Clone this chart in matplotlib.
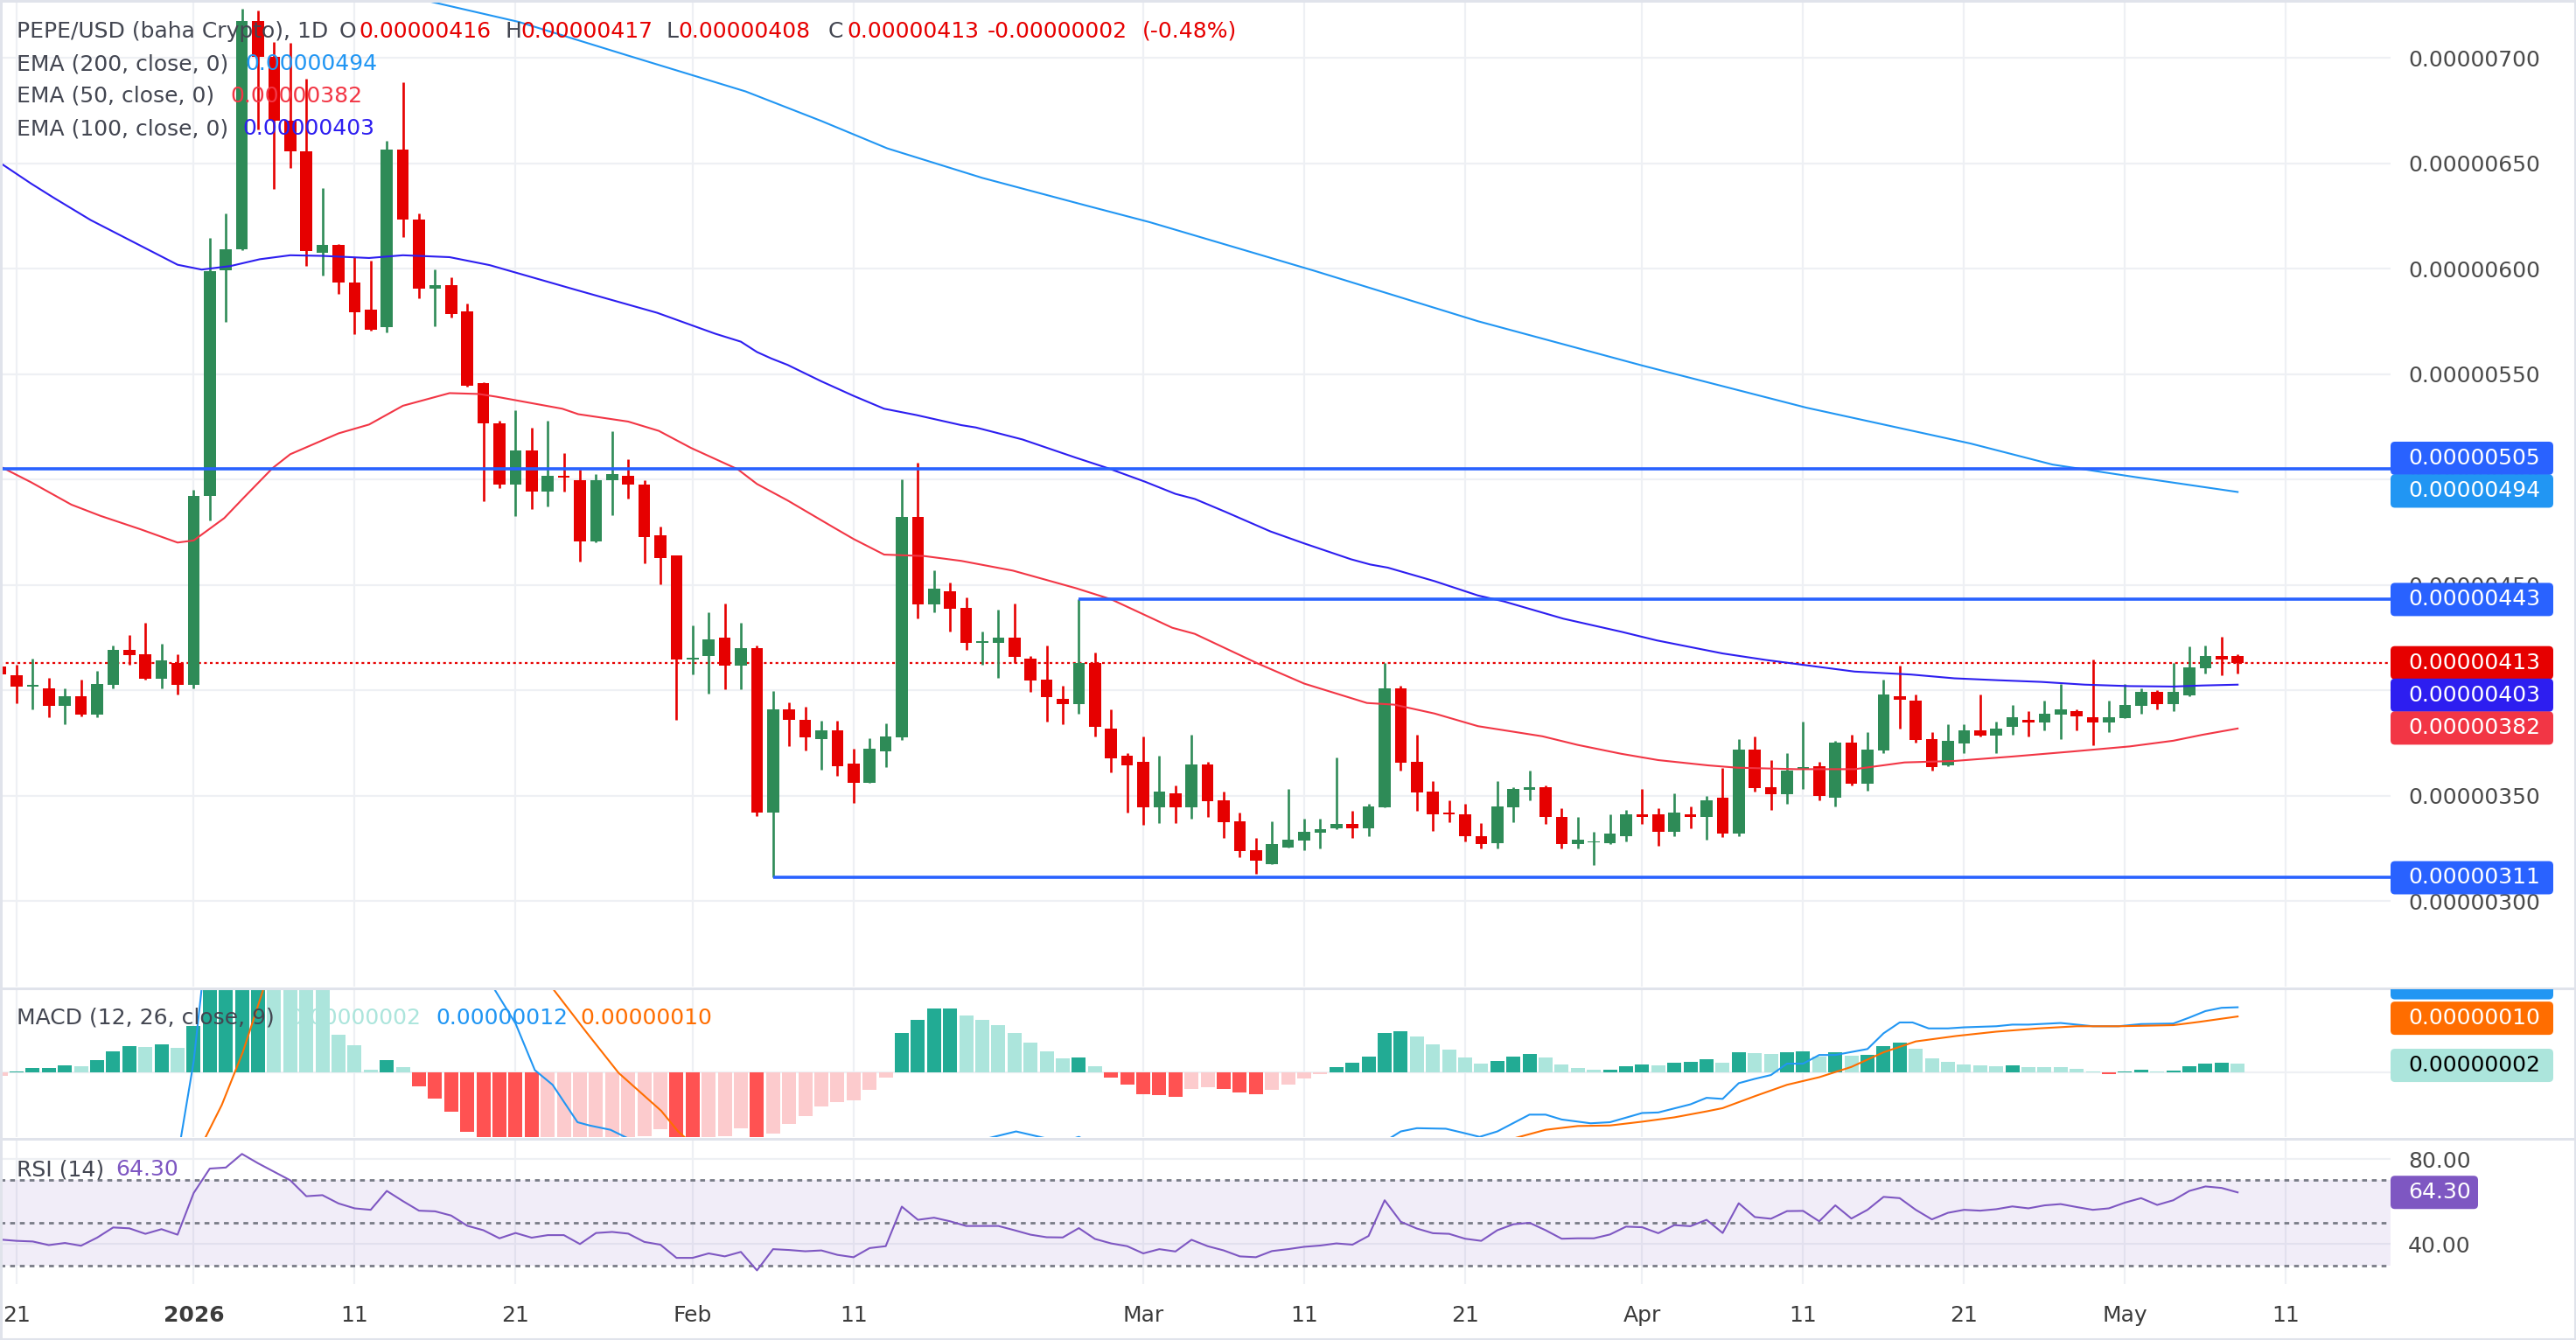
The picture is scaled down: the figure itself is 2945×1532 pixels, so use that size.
import numpy as np
import pandas as pd
import matplotlib
matplotlib.use("Agg")
import matplotlib.pyplot as plt
from matplotlib.patches import Rectangle, FancyBboxPatch
from matplotlib.transforms import IdentityTransform, Bbox
from matplotlib.lines import Line2D

plt.rcParams['font.family'] = ['DejaVu Sans']

# ---------------- data (prices and MACD in units of 1e-8 USD) ----------------
UNIT = 1e-8
first_day = "2025-12-20"
day0 = pd.Timestamp("2025-12-21")

opens = [411, 407.1, 401.8, 400.8, 392.7, 397.1, 388.5, 402.6, 419.1, 417.0, 405.5,
         412.9, 402.6, 492.2, 599.3, 609.0, 717.4, 700.4, 670.1, 655.7, 607.5,
         611.3, 593.4, 580.7, 572.2, 656.6, 623.2, 590.6, 592.3, 579.6, 545.7,
         526.5, 497.5, 513.8, 494.3, 501.8, 499.7, 470.5, 499.4, 501.8, 497.7,
         473.6, 463.7, 414.7, 416.1, 425.0, 411.7, 419.9, 341.8, 390.9, 386.0,
         376.6, 381.1, 365.0, 355.9, 370.9, 377.8, 482.2, 440.8, 446.9, 438.9,
         422.6, 422.4, 425.0, 414.9, 405.0, 395.9, 393.4, 412.9, 381.7, 368.9,
         366.0, 344.6, 351.0, 344.6, 364.6, 347.7, 337.7, 323.9, 317.4, 325.3,
         328.6, 332.4, 334.3, 336.7, 334.4, 344.6, 401.0, 366.0, 351.9, 342.0,
         341.2, 330.9, 327.5, 344.6, 352.9, 354.0, 340.0, 326.9, 327.8, 327.5,
         330.6, 341.2, 341.2, 332.6, 341.2, 339.7, 349.0, 331.8, 371.8, 354.0,
         350.8, 362.5, 363.9, 348.8, 375.1, 355.8, 371.5, 397.0, 394.9, 376.7,
         364.3, 374.7, 380.9, 378.4, 382.6, 385.8, 384.7, 388.4, 389.9, 387.0,
         384.7, 386.6, 392.6, 399.0, 393.2, 397.4, 410.3, 416.0, 416.0]
highs = [415, 412, 415.1, 405.8, 400.8, 405.0, 409.1, 421.2, 426.1, 431.8, 422.0,
         417.0, 495, 614.5, 626.2, 723.2, 722.5, 707.5, 707, 690, 638.2,
         611.5, 605.4, 603.7, 660.4, 688.4, 626.2, 599.5, 595.7, 583.6, 545.9,
         527.7, 532.6, 524.3, 527.7, 512.6, 504.4, 502.5, 522.9, 509.7, 499.6,
         477.8, 463.9, 430.9, 437.0, 441.2, 431.9, 421.1, 399.4, 394.0, 392.3,
         385.3, 385.3, 372.1, 377.0, 384.1, 499.9, 507.7, 456.8, 450.9, 443.9,
         427.7, 438.1, 441.0, 416.3, 421.3, 402.0, 443.3, 417.9, 390.7, 370.0,
         377.9, 368.9, 354.6, 378.9, 366.0, 352.0, 342.0, 329.9, 337.7, 353.1,
         339.1, 339.1, 368.1, 342.7, 346.0, 413.0, 402.1, 378.9, 357.0, 347.8,
         346.1, 337.0, 357.0, 354.0, 361.8, 354.7, 343.9, 340.0, 332.9, 341.2,
         343.0, 353.3, 344.1, 351.2, 345.0, 349.9, 362.9, 376.7, 378.0, 366.8,
         370.1, 385.0, 366.0, 376.1, 378.8, 380.0, 404.8, 411.8, 397.8, 380.0,
         383.7, 383.7, 397.8, 385.0, 392.8, 390.0, 394.9, 402.8, 390.8, 414.7,
         394.9, 402.8, 400.8, 399.9, 412.7, 420.6, 421.1, 425.3, 417]
lows = [404.1, 393.8, 390.9, 387.1, 384.0, 387.4, 387.1, 401.0, 412.0, 405.0, 401.0,
        397.9, 401, 480.6, 574.7, 608.6, 666, 637.6, 647.7, 601.3, 596.5,
        587.9, 569.0, 570.5, 569.9, 615.0, 585.7, 572.6, 576.8, 544.0, 489.7,
        495.7, 482.7, 485.7, 487.0, 494.0, 461.0, 470.0, 482.9, 490.9, 460.3,
        450.3, 385.7, 407.4, 398.2, 400.3, 400.3, 340.4, 311.4, 373.3, 371.2,
        362.2, 359.2, 346.5, 355.9, 363.4, 376.4, 434.2, 437.0, 427.9, 419.1,
        412.1, 405.7, 412.7, 399.1, 385.0, 383.9, 388.7, 378.1, 361.0, 342.0,
        336.3, 337.0, 337.0, 339.1, 339.9, 329.9, 320.7, 313.0, 317.4, 325.3,
        324.1, 325.0, 334.1, 329.9, 330.7, 344.6, 362.0, 342.7, 333.1, 337.2,
        328.1, 325.1, 325.1, 337.2, 347.8, 336.4, 325.1, 325.1, 317.2, 327.1,
        328.1, 336.4, 326.2, 330.9, 334.3, 329.2, 330.2, 330.9, 351.9, 343.0,
        346.1, 353.3, 347.8, 345.0, 354.7, 352.2, 370.2, 381.8, 375.2, 362.0,
        363.9, 370.1, 378.0, 370.1, 378.8, 378.0, 380.9, 376.7, 380.9, 373.8,
        380.0, 386.6, 388.7, 390.8, 389.9, 397.1, 407.7, 407.0, 408]
closes = [407.6, 401.8, 402.5, 392.7, 397.1, 388.5, 402.9, 419.1, 416.7, 405.3, 414.1,
          402.6, 492.2, 598.6, 609.2, 717.4, 700.4, 670.1, 655.7, 608.2, 611.3,
          593.4, 579.4, 571.1, 656.6, 623.2, 590.6, 592.0, 578.5, 544.5, 526.5,
          497.5, 513.8, 494.3, 501.8, 500.8, 470.5, 499.7, 502.7, 497.5, 472.6,
          462.7, 414.7, 415.4, 424.1, 411.7, 419.9, 341.8, 390.9, 385.8, 377.8,
          381.1, 363.7, 355.9, 372.1, 378.2, 482.2, 440.8, 448.1, 438.7, 422.4,
          423.1, 425.0, 415.7, 404.6, 396.7, 393.4, 412.9, 382.7, 367.7, 364.4,
          344.6, 351.7, 344.6, 364.6, 347.4, 337.4, 323.6, 318.9, 327.0, 329.1,
          332.7, 334.1, 336.7, 334.4, 344.9, 401.0, 365.7, 351.4, 340.9, 341.2,
          330.6, 326.9, 344.9, 353.3, 354.0, 339.7, 326.9, 329.2, 328.3, 332.0,
          341.2, 339.7, 332.6, 342.0, 339.7, 347.8, 331.8, 371.8, 353.7, 350.8,
          361.8, 363.4, 349.6, 375.1, 355.7, 371.8, 397.8, 395.5, 376.4, 363.6,
          375.9, 380.9, 378.4, 381.7, 387.0, 384.7, 388.7, 390.8, 387.5, 384.7,
          387.0, 392.8, 399.0, 393.2, 399.0, 410.6, 416.0, 414.6, 413]

# EMA readings: (day offset from 2025-12-21, value in 1e-8)
ema200_days = [-1, 10, 18, 25.5, 31.2, 38, 45.3, 50, 54.1, 60, 66.4, 70.4, 80.6,
               90.8, 101, 111.2, 121.4, 126.5, 131.7, 138]
ema200_vals = [790, 762, 742, 727, 717, 701, 684, 670, 657, 643, 630, 622, 599,
               575, 554, 534, 517, 507, 501, 494]
ema100_days = [-1, 0.9, 2.3, 4.6, 7.3, 10.0, 11.5, 13.3, 15.1, 17, 19, 21.9, 24, 26.9,
               29.4, 34.7, 39.8, 43.4, 45, 46, 46.9, 47.9, 50, 52, 53.9, 55.9, 58.7,
               59.6, 62.5, 65.8, 67.8, 70.1, 72, 73.2, 75.1, 77.9, 80, 82.9, 84.1,
               85.2, 88.1, 90.8, 92.4, 96.1, 99.7, 101.9, 106, 108.7, 110.9, 114.2,
               117.7, 120.4, 123.1, 125.8, 128.5, 131.3, 134, 135.8, 138]
ema100_vals = [650, 640.3, 633.6, 623, 612.4, 601.8, 599.5, 601.2, 604.4, 606.3, 606,
               605, 606.3, 605.4, 601.6, 590, 579, 569.1, 565.3, 560.4, 557.3, 554.3,
               546.5, 539.6, 533.5, 530.5, 525.7, 524.6, 518.9, 510.3, 505.3, 498.9,
               493.1, 490.7, 484.6, 475.3, 469.6, 462.1, 459.6, 458.1, 451.7, 444.9,
               442.1, 433.9, 427.7, 423.6, 417.4, 414.3, 412.1, 408.8, 407.4, 405.6,
               404.7, 403.9, 402.6, 401.9, 401.7, 402.2, 402.6]
ema50_days = [-1, 0.9, 3.4, 5.2, 7.7, 10.0, 11.0, 12.9, 14.1, 15.9, 17, 20, 21.9, 24,
              26.9, 28.7, 29.8, 33.9, 34.9, 38, 39.9, 41.9, 44.8, 46, 47.9, 50.8, 52,
              53.9, 56.4, 58.7, 61.9, 65.8, 68, 71.8, 73.2, 75.9, 77.1, 80, 83.9, 85.6,
              88.1, 90.8, 94.8, 97, 99.7, 102, 105.1, 106.9, 110.6, 114.2, 117.3,
              120.4, 124, 127.6, 131.3, 134, 135.8, 138]
ema50_vals = [506, 498.6, 488, 482.7, 476.3, 470, 471, 481.6, 491.2, 505.3, 511.9,
              521.8, 526, 534.9, 540.9, 540.5, 539.2, 533.5, 530.9, 527.4, 523, 514.9,
              504.8, 497.8, 490, 477, 471.7, 464.3, 463.6, 461.3, 456.7, 448.4, 443.1,
              429.6, 426.7, 417, 412.7, 403.1, 393.9, 393.1, 388.9, 382.9, 378.1, 374,
              369.8, 366.8, 364.3, 363.2, 362.5, 362.5, 365.7, 366.4, 368.5, 370.8,
              373.3, 376, 378.8, 381.8]

# horizontal levels drawn on the chart (value, start day)
level_vals = [505, 443, 311]
level_start = [-1.1, 66, 47]

# MACD (units of 1e-8)
macd_hist = [-0.6, 0.2, 0.8, 0.85, 1.3, 1.1, 2.3, 3.9, 4.8, 4.7, 5.2,
             4.5, 8.6, 17, 22, 28, 30, 27, 24, 20, 17,
             7.0, 5.0, 0.4, 2.3, 1.0, -2.6, -4.8, -7.2, -10.9, -13,
             -14, -15, -15.5, -15, -14.5, -14, -13.5, -13, -12.4, -11.8,
             -10.5, -12.8, -13.5, -13, -11.8, -10.3, -12.8, -11.3, -9.5, -8.1,
             -6.3, -5.5, -5.1, -3.2, -1.0, 7.3, 9.7, 11.7, 11.8, 10.5,
             9.6, 8.7, 7.3, 5.5, 3.8, 2.5, 2.7, 1.1, -0.9, -2.2,
             -4.0, -4.2, -4.5, -3.1, -2.8, -3.1, -3.7, -4.1, -3.3, -2.3,
             -1.2, -0.3, 1.0, 1.8, 2.9, 7.3, 7.6, 6.6, 5.2, 4.2,
             2.7, 1.6, 2.1, 2.9, 3.4, 2.7, 1.5, 0.8, 0.5, 0.55,
             1.1, 1.5, 1.3, 1.8, 1.9, 2.4, 1.8, 3.7, 3.6, 3.4,
             3.7, 3.9, 2.9, 3.7, 3.1, 3.2, 4.8, 5.5, 4.4, 2.6,
             1.9, 1.5, 1.3, 1.1, 1.3, 1.0, 0.95, 0.9, 0.6, 0.2,
             -0.3, 0.2, 0.5, 0.2, 0.3, 1.1, 1.6, 1.8, 1.6]
macd_days = [-1, 5, 9, 10.2, 11, 11.5, 12.5, 14, 17, 20, 24, 27, 29.65, 31.0, 32.2,
             33.3, 34.85, 35.6, 36.9, 38, 42, 47, 52, 56, 60.3, 62.1, 64, 65, 66,
             67, 72, 78, 82, 85.3, 86, 87, 88.8, 89.8, 90.9, 92, 94, 95, 96, 97.8,
             99, 101, 102, 104, 105, 106, 107, 108, 109, 110, 111, 112, 113, 115,
             116, 117, 117.8, 118.8, 120, 121, 123, 124, 125, 127, 129, 130.6, 132,
             134, 135, 136, 137, 138]
macd_vals = [-17, -16, -14.5, -12.2, 2, 15.5, 25, 38, 45, 40, 30, 22, 15.5, 9.0, 0.4,
             -2.3, -9.2, -9.8, -10.6, -12.2, -20, -25, -20, -14, -12.2, -10.9, -12.2,
             -12.8, -11.9, -13.5, -17, -16, -14, -12.2, -10.9, -10.3, -10.4, -11.1,
             -11.9, -10.9, -7.8, -7.8, -8.7, -9.4, -9.2, -7.5, -7.4, -5.9, -4.7, -4.9,
             -2.0, -1.2, -0.5, 1.6, 1.6, 3.2, 3.2, 4.3, 7.2, 9.2, 9.2, 8.1, 8.1, 8.3,
             8.5, 8.8, 8.8, 9.1, 8.5, 8.5, 8.9, 9.0, 10.1, 11.3, 11.9, 12.0]
signal_days = [-1, 5, 10, 11.7, 12.75, 14.05, 15.35, 18, 22, 26, 30, 33.3, 35.4, 37.4,
               40.05, 41.1, 41.6, 46, 52, 58, 64, 70, 80, 88, 93, 95, 97, 99, 101, 103,
               105, 106, 108, 110, 112, 114, 116, 118, 120.5, 123, 125.6, 128, 130.6,
               134, 135.6, 138]
signal_vals = [-19, -18, -16, -12.2, -6.0, 3.7, 15.5, 24, 30, 28, 22, 15.5, 7.4, -0.1,
               -7.1, -10.9, -12.2, -17, -22, -24, -20, -16, -15, -14, -12.2, -10.6,
               -9.9, -9.8, -9.1, -8.3, -7.2, -6.6, -4.4, -2.3, -0.9, 1.0, 3.7, 5.7, 6.7,
               7.5, 8.1, 8.5, 8.5, 8.7, 9.3, 10.3]

# RSI (14), one value per candle
rsi = [42.1, 41.5, 41.2, 39.5, 40.5, 39.2, 43.0, 47.8, 47.4, 44.8, 47.0,
       44.4, 64, 75.5, 76, 82.4, 78, 74, 70, 62.5, 63,
       59.1, 56.8, 56.1, 65.0, 60.2, 55.7, 55.4, 53.4, 48.6, 46.5,
       42.7, 45.2, 43.0, 44.2, 44.2, 40.0, 45.2, 45.7, 44.9, 41.0,
       39.7, 33.5, 33.5, 35.6, 34.2, 36.3, 27.6, 37.6, 37.2, 36.6,
       37.0, 34.9, 33.8, 38.1, 39.0, 57.6, 51.4, 52.4, 50.7, 48.5,
       48.5, 48.5, 46.5, 44.4, 43.2, 43.1, 47.5, 42.4, 40.3, 39.0,
       35.6, 37.6, 36.5, 42.0, 39.0, 37.0, 34.2, 33.8, 36.7, 37.6,
       38.7, 39.3, 40.3, 39.7, 43.8, 60.6, 50.5, 47.3, 45.1, 44.8,
       42.5, 41.5, 46.5, 49.3, 50.0, 46.5, 42.5, 42.7, 42.7, 44.5,
       48.2, 47.9, 45.1, 48.9, 48.4, 51.4, 45.2, 59.2, 52.7, 51.9,
       55.5, 55.6, 50.7, 58.2, 52.0, 56.1, 62.2, 61.6, 56.1, 51.6,
       54.7, 56.1, 55.7, 56.4, 57.7, 56.8, 58.2, 58.8, 57.4, 56.1,
       56.8, 59.5, 61.6, 58.4, 60.6, 65.0, 67.1, 66.4, 64.3]

tick_dates = ["2025-12-21", "2026-01-01", "2026-01-11", "2026-01-21", "2026-02-01",
              "2026-02-11", "2026-03-01", "2026-03-11", "2026-03-21", "2026-04-01",
              "2026-04-11", "2026-04-21", "2026-05-01", "2026-05-11"]
tick_labels = ["21", "2026", "11", "21", "Feb", "11", "Mar", "11", "21", "Apr",
               "11", "21", "May", "11"]
price_ticks = [300, 350, 400, 450, 500, 550, 600, 650, 700]

# ---------------- styling ----------------
W, H, DPI = 2945, 1532, 100
GREEN, RED = "#2E8B57", "#E60000"
C200, C100, C50 = "#2196F3", "#2D1EF0", "#F23645"
LEVEL = "#2962FF"
GRID = "#EEF0F4"
TXT = "#434651"
AXTXT = "#4A4A4A"
H_UP, H_UP_L, H_DN, H_DN_L = "#22AB94", "#ACE5DC", "#FF5252", "#FCCBCD"
MACD_C, SIG_C, RSI_C = "#2196F3", "#FF6D00", "#7E57C2"
FS = 18
ID = IdentityTransform()

fig = plt.figure(figsize=(W / DPI, H / DPI), dpi=DPI, facecolor="white")


def axes_px(x0, y0, x1, y1):
    return fig.add_axes([x0 / W, 1 - y1 / H, (x1 - x0) / W, (y1 - y0) / H])


PLOT_R = 2733
ax = axes_px(0, 0, PLOT_R, 1128)
axm = axes_px(0, 1131, PLOT_R, 1300)
axr = axes_px(0, 1304, PLOT_R, 1468)

dates = pd.date_range(first_day, periods=len(opens), freq="D")
x = np.asarray((dates - day0).days, dtype=float)
tick_x = [(pd.Timestamp(t) - day0).days for t in tick_dates]
XL = (-1.033, 147.5)

o = np.array(opens) * UNIT
h = np.array(highs) * UNIT
l = np.array(lows) * UNIT
c = np.array(closes) * UNIT

for a in (ax, axm, axr):
    a.set_xlim(*XL)
    for s in a.spines.values():
        s.set_visible(False)
    a.set_xticks(tick_x)
    a.grid(True, color=GRID, lw=1.6, zorder=0)
    a.set_axisbelow(True)
    a.tick_params(length=0, labelsize=FS, labelcolor=AXTXT, pad=14.4)
    a.yaxis.tick_right()
ax.set_xticklabels([])
axm.set_xticklabels([])

# ---- main price panel ----
ax.set_ylim(259.34 * UNIT, 727.39 * UNIT)
ax.set_yticks([p * UNIT for p in price_ticks])
ax.set_yticklabels([f"{p * UNIT:.8f}" for p in price_ticks])

last_close = c[-1]
ax.axhline(last_close, color=RED, lw=1.6, ls=(0, (1.4, 1.6)), zorder=2)

up = c >= o
cols = np.where(up, GREEN, RED)
ax.vlines(x, l, h, colors=cols, lw=1.9, zorder=3)
body_b = np.minimum(o, c)
body_h = np.maximum(np.abs(c - o), 0.6 * UNIT)
ax.bar(x, body_h, bottom=body_b, width=0.74, color=cols, linewidth=0, zorder=4)

ax.plot(ema200_days, np.array(ema200_vals) * UNIT, color=C200, lw=1.5, zorder=5)
ax.plot(ema100_days, np.array(ema100_vals) * UNIT, color=C100, lw=1.5, zorder=5)
ax.plot(ema50_days, np.array(ema50_vals) * UNIT, color=C50, lw=1.5, zorder=5)

for v, s in zip(level_vals, level_start):
    ax.plot([max(s, XL[0]), XL[1]], [v * UNIT, v * UNIT], color=LEVEL, lw=2.6,
            zorder=6, solid_capstyle="butt")

# ---- MACD panel ----
axm.set_ylim(-11.94, 15.32)
axm.set_yticks([0])
axm.set_yticklabels(["0.00000000"])
hist = np.array(macd_hist)
prev = np.concatenate([[hist[0]], hist[:-1]])
hcols = np.where(hist >= 0, np.where(hist > prev, H_UP, H_UP_L),
                 np.where(hist < prev, H_DN, H_DN_L))
axm.bar(x, hist, width=0.86, color=hcols, linewidth=0, zorder=2)
axm.plot(macd_days, macd_vals, color=MACD_C, lw=1.5, zorder=3)
axm.plot(signal_days, signal_vals, color=SIG_C, lw=1.5, zorder=3)

# ---- RSI panel ----
axr.set_ylim(21.19, 88.68)
axr.set_yticks([40, 80])
axr.set_yticklabels(["40.00", "80.00"])
axr.axhspan(30, 70, color=RSI_C, alpha=0.1, lw=0, zorder=1)
for lv in (30, 50, 70):
    axr.axhline(lv, color="#787B86", lw=2.0, ls=(0, (2, 2)), zorder=2)
axr.plot(x, rsi, color=RSI_C, lw=1.5, zorder=3)
axr.set_xticklabels(tick_labels)
axr.tick_params(axis="x", pad=17, labelcolor="#3b3b3b")
axr.get_xticklabels()[1].set_fontweight("bold")


# ---------------- right-side value tags ----------------
def tag(axis, val, text, fc, tc="white", w=186, hgt=38, dy=0.0, clip=None):
    y = axis.transData.transform((XL[1], val))[1] + dy
    p = FancyBboxPatch((PLOT_R, y - hgt / 2), w, hgt,
                       boxstyle="round,pad=0,rounding_size=5",
                       transform=ID, fc=fc, ec="none", zorder=5)
    fig.add_artist(p)
    t = fig.text(PLOT_R + 20, y, text, transform=ID, color=tc, fontsize=FS,
                 va="center", ha="left", zorder=6)
    if clip is not None:
        p.set_clip_box(clip)
        p.set_clip_on(True)
        t.set_clip_box(clip)
        t.set_clip_on(True)


fmt = lambda v: f"{v * UNIT:.8f}"
tag(ax, 505 * UNIT, fmt(level_vals[0]), LEVEL, dy=12)
tag(ax, ema200_vals[-1] * UNIT, fmt(ema200_vals[-1]), C200, dy=1)
tag(ax, 443 * UNIT, fmt(level_vals[1]), LEVEL)
tag(ax, last_close, fmt(closes[-1]), RED)
tag(ax, 403 * UNIT, "0.00000403", C100, dy=-13)
tag(ax, 382 * UNIT, "0.00000382", C50)
tag(ax, 311 * UNIT, fmt(level_vals[2]), LEVEL)

macd_clip = Bbox.from_extents(0, H - 1300, W, H - 1131)
tag(axm, macd_vals[-1], fmt(macd_vals[-1]), MACD_C, dy=28, clip=macd_clip)
tag(axm, signal_vals[-1], fmt(signal_vals[-1]), SIG_C, dy=-2)
tag(axm, macd_hist[-1], fmt(macd_hist[-1]), H_UP_L, tc="black", dy=-2)
tag(axr, rsi[-1], f"{rsi[-1]:.2f}", RSI_C, w=100, hgt=38)


# ---------------- legends ----------------
def ftxt(xp, yp, s, color=TXT, **kw):
    fig.text(xp, H - yp, s, transform=ID, color=color, fontsize=FS,
             va="center", ha="left", zorder=7, **kw)


ftxt(19, 36, "PEPE/USD (baha Crypto), 1D")
for lab, xl, xv, val in (("O", 388, 410, opens[-1]), ("H", 577, 595, highs[-1]),
                         ("L", 761, 775, lows[-1]), ("C", 947, 968, closes[-1])):
    ftxt(xl, 36, lab)
    ftxt(xv, 36, fmt(val), RED)
ftxt(1129, 36, "-0.00000002", RED)
ftxt(1306, 36, "(-0.48%)", RED)

ftxt(19, 73, "EMA (200, close, 0)")
ftxt(280, 73, fmt(ema200_vals[-1]), C200)
ftxt(19, 110, "EMA (50, close, 0)")
ftxt(263, 110, "0.00000382", C50)
ftxt(19, 147, "EMA (100, close, 0)")
ftxt(277, 147, "0.00000403", C100)

ftxt(19, 1164, "MACD (12, 26, close, 9)")
ftxt(330, 1164, fmt(macd_hist[-1]), H_UP_L)
ftxt(498, 1164, fmt(macd_vals[-1]), MACD_C)
ftxt(663, 1164, fmt(signal_vals[-1]), SIG_C)

ftxt(19, 1337, "RSI (14)")
ftxt(132, 1337, f"{rsi[-1]:.2f}", RSI_C)

# ---------------- separators & frame ----------------
for yy in (1129.5, 1302):
    fig.add_artist(Line2D([0, W], [H - yy, H - yy], transform=ID, color="#E0E3EB", lw=2.2))
fig.add_artist(Rectangle((1, 1), W - 2, H - 2, transform=ID, fill=False,
                         ec="#E0E3EB", lw=2.2))

fig.savefig("out.png", dpi=DPI, facecolor="white")
